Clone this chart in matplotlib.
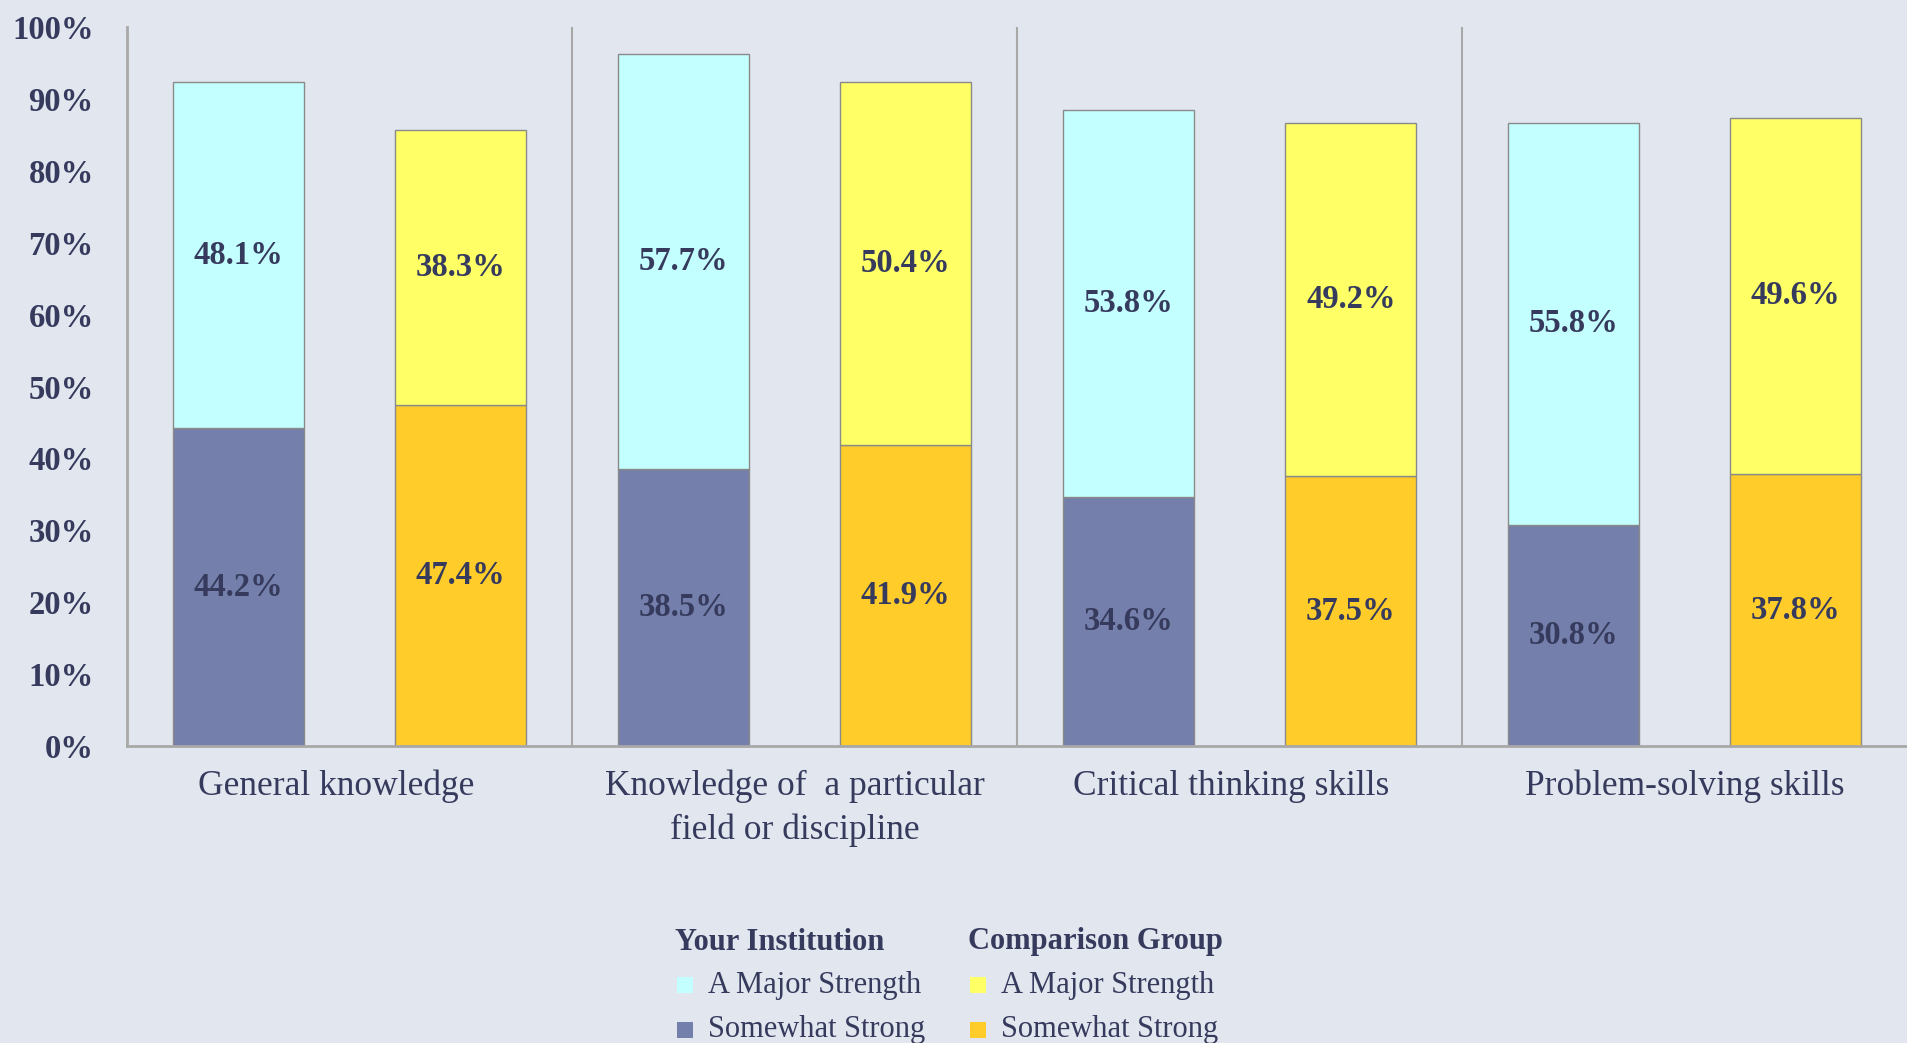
import matplotlib
matplotlib.use("Agg")
import matplotlib.pyplot as plt
from matplotlib.patches import Rectangle
import numpy as np

categories = ["General knowledge   ", "Knowledge of  a particular\nfield or discipline",
              "Critical thinking skills  ", "Problem-solving skills"]
inst_somewhat = [44.2, 38.5, 34.6, 30.8]
inst_major = [48.1, 57.7, 53.8, 55.8]
comp_somewhat = [47.4, 41.9, 37.5, 37.8]
comp_major = [38.3, 50.4, 49.2, 49.6]
yticks = [0, 10, 20, 30, 40, 50, 60, 70, 80, 90, 100]

BG = "#E2E6EE"
TXT = "#363B5E"
C_IM = "#C4FFFF"
C_IS = "#7480AB"
C_CM = "#FFFF66"
C_CS = "#FFCC2A"
EDGE = "#8A8A8A"
SPINE = "#A8A8A8"
FONT = "Liberation Serif"

plt.rcParams['font.family'] = [FONT, 'DejaVu Serif']

fig = plt.figure(figsize=(19.07, 10.43), dpi=100, facecolor=BG)
ax = fig.add_axes([0.0666, 0.2847, 0.9334, 0.6894], facecolor=BG)

x = np.arange(len(categories))
w = 0.295
off = 0.25
ax.bar(x - off, inst_somewhat, w, color=C_IS, edgecolor=EDGE, linewidth=1)
ax.bar(x - off, inst_major, w, bottom=inst_somewhat, color=C_IM, edgecolor=EDGE, linewidth=1)
ax.bar(x + off, comp_somewhat, w, color=C_CS, edgecolor=EDGE, linewidth=1)
ax.bar(x + off, comp_major, w, bottom=comp_somewhat, color=C_CM, edgecolor=EDGE, linewidth=1)

for i in range(len(categories)):
    for xc, lo, hi in [(x[i] - off, inst_somewhat[i], inst_major[i]),
                       (x[i] + off, comp_somewhat[i], comp_major[i])]:
        ax.text(xc, lo / 2, f"{lo:.1f}%", ha="center", va="center",
                fontsize=23.5, fontweight="bold", color=TXT)
        ax.text(xc, lo + hi / 2, f"{hi:.1f}%", ha="center", va="center",
                fontsize=23.5, fontweight="bold", color=TXT)

for s in [0.5, 1.5, 2.5]:
    ax.axvline(s, color=SPINE, linewidth=1.5)

ax.set_xlim(-0.5, 3.5)
ax.set_ylim(0, 100)
ax.set_yticks(yticks)
ax.set_yticklabels([f"{t}%" for t in yticks], fontsize=23.5, fontweight="bold", color=TXT)
ax.set_xticks(x)
ax.set_xticklabels(categories, fontsize=25.5, color=TXT, linespacing=1.42, va="top")
ax.tick_params(axis="y", length=0, pad=24)
ax.tick_params(axis="x", length=0, pad=17)
for side in ["top", "right"]:
    ax.spines[side].set_visible(False)
for side in ["left", "bottom"]:
    ax.spines[side].set_color(SPINE)
    ax.spines[side].set_linewidth(2)

H = 1043.0
W = 1907.0
def fx(px):
    return px / W
def fy(py):
    return 1 - py / H

leg_font = 22
cols = [(675, "Your Institution", [(C_IM, "A Major Strength"), (C_IS, "Somewhat Strong")]),
        (968, "Comparison Group", [(C_CM, "A Major Strength"), (C_CS, "Somewhat Strong")])]
rows_y = [985, 1030]
for cx, title, items in cols:
    fig.text(fx(cx), fy(942), title, fontsize=leg_font, fontweight="bold",
             color=TXT, ha="left", va="center")
    for (col, lab), ry in zip(items, rows_y):
        sq = 16
        fig.patches.append(Rectangle((fx(cx + 2), fy(ry + sq / 2)), sq / W, sq / H,
                                     transform=fig.transFigure, facecolor=col,
                                     edgecolor="none"))
        fig.text(fx(cx + 33), fy(ry), lab, fontsize=leg_font, color=TXT,
                 ha="left", va="center")

fig.savefig("out.png", dpi=100, facecolor=BG)
